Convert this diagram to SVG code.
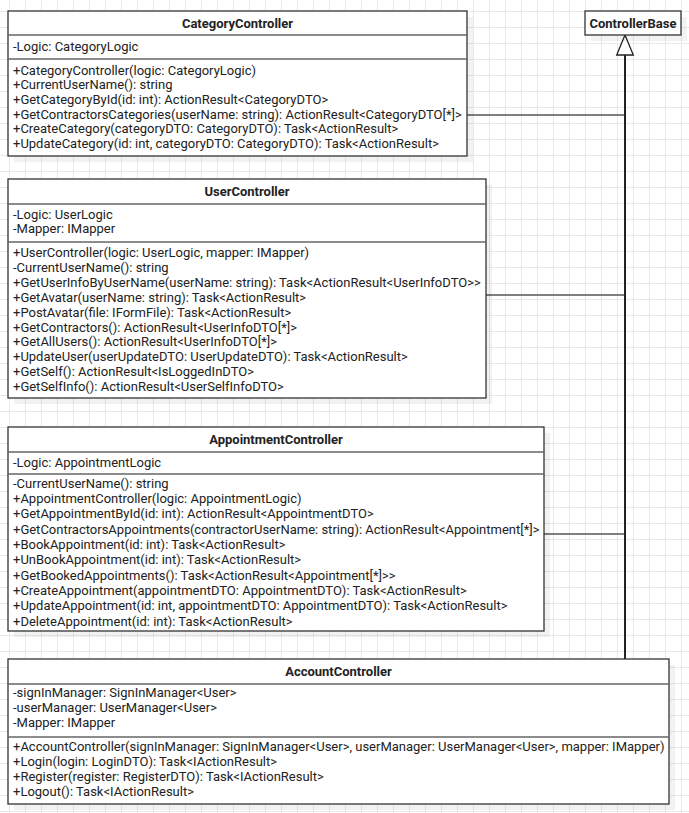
<svg xmlns="http://www.w3.org/2000/svg" width="689" height="813" viewBox="0 0 689 813">
<defs>
<pattern id="grid" patternUnits="userSpaceOnUse" x="9" y="11" width="16" height="16">
<path d="M0 0.5 H16 M0.5 0 V16" stroke="#e9e9e9" stroke-width="1" fill="none"/>
</pattern>
<style>
.box{fill:#fff;stroke:#333;stroke-width:1.3}
.shadow{fill:#000;opacity:0.05}
.sep{stroke:#666;stroke-width:1.3}
.t{font-family:Roboto,"Liberation Sans",sans-serif;font-size:13px;fill:#222}
.h{font-family:Roboto,"Liberation Sans",sans-serif;font-size:13px;font-weight:bold;fill:#222;text-anchor:middle}
.edge{stroke:#555;stroke-width:1.3;fill:none}
.trunk{stroke:#222;stroke-width:2;fill:none}
</style>
</defs>
<rect width="689" height="813" fill="#fff"/>
<rect width="689" height="813" fill="url(#grid)"/>

<g id="connectors">
<line class="edge" x1="467" y1="115" x2="625" y2="115"/>
<line class="edge" x1="486" y1="295" x2="625" y2="295"/>
<line class="edge" x1="544" y1="534" x2="625" y2="534"/>
<line class="trunk" x1="625" y1="55" x2="625" y2="659"/>
<polygon points="625,35 633.3,55 616.7,55" fill="#fff" stroke="#222" stroke-width="1.3"/>
</g>

<g id="ControllerBase">
<rect class="shadow" x="591" y="17" width="96" height="24"/>
<rect class="box" x="585" y="11" width="96" height="24"/>
<text class="h" x="633" y="27.5">ControllerBase</text>
</g>

<g id="CategoryController">
<rect class="shadow" x="14" y="17" width="459" height="145"/>
<rect class="box" x="8" y="11" width="459" height="145"/>
<line class="sep" x1="8" y1="35" x2="467" y2="35"/>
<line class="sep" x1="8" y1="59" x2="467" y2="59"/>
<text class="h" x="237.5" y="27.5">CategoryController</text>
<text class="t" x="13" y="50.5">-Logic: CategoryLogic</text>
<text class="t" x="13" y="74.5">+CategoryController(logic: CategoryLogic)</text>
<text class="t" x="13" y="89.2">+CurrentUserName(): string</text>
<text class="t" x="13" y="103.8">+GetCategoryById(id: int): ActionResult&lt;CategoryDTO&gt;</text>
<text class="t" x="13" y="118.5">+GetContractorsCategories(userName: string): ActionResult&lt;CategoryDTO[*]&gt;</text>
<text class="t" x="13" y="133.2">+CreateCategory(categoryDTO: CategoryDTO): Task&lt;ActionResult&gt;</text>
<text class="t" x="13" y="147.8">+UpdateCategory(id: int, categoryDTO: CategoryDTO): Task&lt;ActionResult&gt;</text>
</g>

<g id="UserController">
<rect class="shadow" x="14" y="185" width="478" height="219"/>
<rect class="box" x="8" y="179" width="478" height="219"/>
<line class="sep" x1="8" y1="204" x2="486" y2="204"/>
<line class="sep" x1="8" y1="242" x2="486" y2="242"/>
<text class="h" x="247" y="195.5">UserController</text>
<text class="t" x="13" y="218.5">-Logic: UserLogic</text>
<text class="t" x="13" y="233">-Mapper: IMapper</text>
<text class="t" x="13" y="256.8">+UserController(logic: UserLogic, mapper: IMapper)</text>
<text class="t" x="13" y="271.7">-CurrentUserName(): string</text>
<text class="t" x="13" y="286.7">+GetUserInfoByUserName(userName: string): Task&lt;ActionResult&lt;UserInfoDTO&gt;&gt;</text>
<text class="t" x="13" y="301.6">+GetAvatar(userName: string): Task&lt;ActionResult&gt;</text>
<text class="t" x="13" y="316.5">+PostAvatar(file: IFormFile): Task&lt;ActionResult&gt;</text>
<text class="t" x="13" y="331.5">+GetContractors(): ActionResult&lt;UserInfoDTO[*]&gt;</text>
<text class="t" x="13" y="346.4">+GetAllUsers(): ActionResult&lt;UserInfoDTO[*]&gt;</text>
<text class="t" x="13" y="361.3">+UpdateUser(userUpdateDTO: UserUpdateDTO): Task&lt;ActionResult&gt;</text>
<text class="t" x="13" y="376.3">+GetSelf(): ActionResult&lt;IsLoggedInDTO&gt;</text>
<text class="t" x="13" y="391.2">+GetSelfInfo(): ActionResult&lt;UserSelfInfoDTO&gt;</text>
</g>

<g id="AppointmentController">
<rect class="shadow" x="14" y="433" width="536" height="204"/>
<rect class="box" x="8" y="427" width="536" height="204"/>
<line class="sep" x1="8" y1="452" x2="544" y2="452"/>
<line class="sep" x1="8" y1="474" x2="544" y2="474"/>
<text class="h" x="276" y="443.5">AppointmentController</text>
<text class="t" x="13" y="466.8">-Logic: AppointmentLogic</text>
<text class="t" x="13" y="487.5">-CurrentUserName(): string</text>
<text class="t" x="13" y="502.8">+AppointmentController(logic: AppointmentLogic)</text>
<text class="t" x="13" y="518.2">+GetAppointmentById(id: int): ActionResult&lt;AppointmentDTO&gt;</text>
<text class="t" x="13" y="533.5">+GetContractorsAppointments(contractorUserName: string): ActionResult&lt;Appointment[*]&gt;</text>
<text class="t" x="13" y="548.8">+BookAppointment(id: int): Task&lt;ActionResult&gt;</text>
<text class="t" x="13" y="564.2">+UnBookAppointment(id: int): Task&lt;ActionResult&gt;</text>
<text class="t" x="13" y="579.5">+GetBookedAppointments(): Task&lt;ActionResult&lt;Appointment[*]&gt;&gt;</text>
<text class="t" x="13" y="594.8">+CreateAppointment(appointmentDTO: AppointmentDTO): Task&lt;ActionResult&gt;</text>
<text class="t" x="13" y="610.2">+UpdateAppointment(id: int, appointmentDTO: AppointmentDTO): Task&lt;ActionResult&gt;</text>
<text class="t" x="13" y="625.5">+DeleteAppointment(id: int): Task&lt;ActionResult&gt;</text>
</g>

<g id="AccountController">
<rect class="shadow" x="14" y="665" width="661" height="145"/>
<rect class="box" x="8" y="659" width="661" height="145"/>
<line class="sep" x1="8" y1="684" x2="669" y2="684"/>
<line class="sep" x1="8" y1="737" x2="669" y2="737"/>
<text class="h" x="338.5" y="675.5">AccountController</text>
<text class="t" x="13" y="696.8">-signInManager: SignInManager&lt;User&gt;</text>
<text class="t" x="13" y="711.8">-userManager: UserManager&lt;User&gt;</text>
<text class="t" x="13" y="726.8">-Mapper: IMapper</text>
<text class="t" x="13" y="750.5">+AccountController(signInManager: SignInManager&lt;User&gt;, userManager: UserManager&lt;User&gt;, mapper: IMapper)</text>
<text class="t" x="13" y="765.5">+Login(login: LoginDTO): Task&lt;IActionResult&gt;</text>
<text class="t" x="13" y="780.5">+Register(register: RegisterDTO): Task&lt;IActionResult&gt;</text>
<text class="t" x="13" y="795.5">+Logout(): Task&lt;IActionResult&gt;</text>
</g>
</svg>
